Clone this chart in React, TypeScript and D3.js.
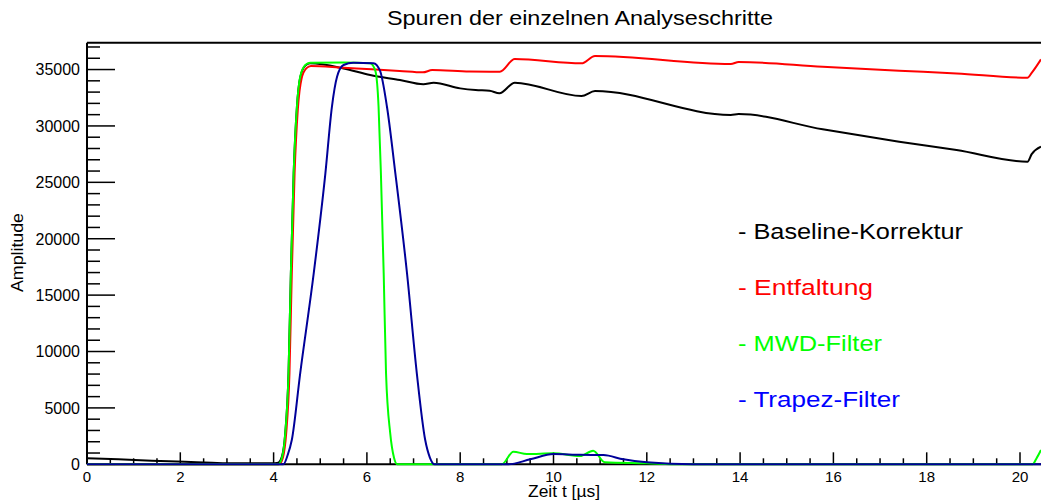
import React from 'react';
import * as d3 from 'd3';

const W = 1041;
const H = 504;

// Zeit t in µs, Amplitude in ADC-Einheiten
const tBaseline = [0, 0.67, 1.39, 2.1, 2.68, 3.18, 3.96, 4.1, 4.18, 4.25, 4.32, 4.37, 4.43, 4.5, 4.57, 4.68, 4.78, 5.5, 6.07, 6.71, 7.21, 7.43, 8.0, 8.33, 8.63, 8.84, 9.17, 10.6, 10.89, 13.8, 13.97, 15.77, 17.41, 18.64, 20.16, 20.25, 20.45];
const vBaseline = [530, 440, 320, 230, 140, 90, 90, 150, 700, 2800, 8100, 16900, 25800, 31700, 34300, 35350, 35550, 35100, 34510, 34070, 33690, 33830, 33330, 33180, 33120, 32890, 33830, 32650, 33090, 30970, 31050, 29700, 28600, 27860, 26830, 27500, 28160];

const tEntfaltung = [0, 4.12, 4.2, 4.27, 4.34, 4.39, 4.45, 4.52, 4.6, 4.7, 4.8, 5.5, 6.1, 6.7, 7.2, 7.4, 8.2, 8.85, 9.17, 10.6, 10.89, 13.8, 13.97, 15.77, 17.41, 18.64, 20.16, 20.25, 20.45];
const vEntfaltung = [0, 0, 600, 2750, 8070, 16930, 25800, 31500, 34200, 35100, 35310, 35150, 35020, 34880, 34750, 34950, 34820, 34800, 35930, 35550, 36200, 35490, 35670, 35250, 34900, 34660, 34270, 34700, 35900];

const tMwd = [0, 4.1, 4.18, 4.25, 4.32, 4.37, 4.43, 4.5, 4.57, 4.68, 4.78, 5.5, 6.07, 6.18, 6.25, 6.3, 6.36, 6.41, 6.5, 6.58, 6.65, 8.89, 9.14, 9.43, 10.0, 10.57, 10.85, 11.1, 12.0, 12.71, 20.27, 20.35, 20.45];
const vMwd = [0, 0, 600, 2750, 8070, 16930, 25800, 31700, 34360, 35400, 35600, 35620, 35560, 34900, 31700, 25800, 16930, 8070, 2750, 600, 0, 0, 1120, 910, 975, 735, 1210, 180, 90, 0, 0, 500, 1270];

const tTrapez = [0, 4.21, 4.3, 4.39, 4.57, 4.86, 5.11, 5.25, 5.36, 5.5, 5.71, 6.14, 6.28, 6.43, 6.61, 6.86, 7.07, 7.25, 7.35, 7.45, 9.03, 9.5, 10.0, 10.57, 11.07, 11.5, 12.0, 13.0, 20.45];
const vTrapez = [0, 0, 800, 2150, 8070, 16930, 25800, 31700, 34360, 35400, 35600, 35560, 34900, 31700, 25800, 16930, 8070, 2150, 600, 0, 0, 440, 910, 840, 820, 440, 180, 0, 0];

const xTickLabels = ['0', '2', '4', '6', '8', '10', '12', '14', '16', '18', '20'];
const yTickLabels = ['0', '5000', '10000', '15000', '20000', '25000', '30000', '35000'];

const series = [
  { name: '- Baseline-Korrektur', t: tBaseline, v: vBaseline, line: '#000000', text: '#000000', len: 225 },
  { name: '- Entfaltung', t: tEntfaltung, v: vEntfaltung, line: '#ff0000', text: '#ff0000', len: 135 },
  { name: '- MWD-Filter', t: tMwd, v: vMwd, line: '#00ff00', text: '#00ff00', len: 144 },
  { name: '- Trapez-Filter', t: tTrapez, v: vTrapez, line: '#000099', text: '#0000ff', len: 162 },
];

const font = '"Liberation Sans", Arial, Helvetica, sans-serif';

export default function App() {
  const left = 87, right = 1041, top = 42.7, bottom = 464.3;

  const x = d3.scaleLinear().domain([0, 20.45]).range([left, right]);
  const y = d3.scaleLinear().domain([0, 37380]).range([bottom, top]);

  const line = d3.line<[number, number]>()
    .x(d => x(d[0]))
    .y(d => y(d[1]))
    .curve(d3.curveMonotoneX);

  const xMajor = xTickLabels.map(Number);
  const xMinor = d3.range(0, 20.45, 0.5).filter(t => t % 2 !== 0);
  const yMajor = yTickLabels.map(Number);
  const yMinor = d3.range(0, 37001, 1000).filter(v => v % 5000 !== 0);

  return (
    <svg width={W} height={H} style={{ position: 'absolute', left: 0, top: 0, background: '#fff' }} fontFamily={font}>
      <defs>
        <clipPath id="plot">
          <rect x={left} y={top} width={right - left} height={bottom - top + 2} />
        </clipPath>
      </defs>

      <text x={580} y={25} textAnchor="middle" fontSize={20} textLength={386} lengthAdjust="spacingAndGlyphs">
        Spuren der einzelnen Analyseschritte
      </text>

      {/* frame */}
      <line x1={left} x2={right} y1={top} y2={top} stroke="#000" strokeWidth={2} />
      <line x1={left} x2={left} y1={top} y2={bottom} stroke="#000" strokeWidth={2} />
      <line x1={left} x2={right} y1={bottom} y2={bottom} stroke="#000" strokeWidth={2} />

      {/* y axis */}
      {yMinor.map(v => (
        <line key={'ym' + v} x1={left} x2={left + 13} y1={y(v)} y2={y(v)} stroke="#000" strokeWidth={1.5} />
      ))}
      {yMajor.map((v, i) => (
        <g key={'yM' + v}>
          <line x1={left} x2={left + 28} y1={y(v)} y2={y(v)} stroke="#000" strokeWidth={1.5} />
          <text x={80} y={y(v) + 5.8} textAnchor="end" fontSize={16}>{yTickLabels[i]}</text>
        </g>
      ))}
      <text transform="translate(23,292) rotate(-90)" fontSize={16} textLength={79} lengthAdjust="spacingAndGlyphs">Amplitude</text>

      {/* x axis */}
      {xMinor.map(t => (
        <line key={'xm' + t} x1={x(t)} x2={x(t)} y1={bottom} y2={bottom - 6} stroke="#000" strokeWidth={1.5} />
      ))}
      {xMajor.map((t, i) => (
        <g key={'xM' + t}>
          <line x1={x(t)} x2={x(t)} y1={bottom} y2={bottom - 12} stroke="#000" strokeWidth={1.5} />
          <text x={x(t)} y={482} textAnchor="middle" fontSize={15}>{xTickLabels[i]}</text>
        </g>
      ))}
      <text x={600} y={497} textAnchor="end" fontSize={16} textLength={72} lengthAdjust="spacingAndGlyphs">Zeit t [µs]</text>

      {/* traces */}
      <g clipPath="url(#plot)">
        {series.map(s => (
          <path key={s.name} d={line(s.t.map((t, i) => [t, s.v[i]] as [number, number])) || ''}
            fill="none" stroke={s.line} strokeWidth={2} strokeLinejoin="round" />
        ))}
      </g>

      {/* legend */}
      {series.map((s, i) => (
        <text key={'lg' + i} x={738} y={239 + i * 56} fill={s.text} fontSize={22}
          textLength={s.len} lengthAdjust="spacingAndGlyphs">{s.name}</text>
      ))}
    </svg>
  );
}
